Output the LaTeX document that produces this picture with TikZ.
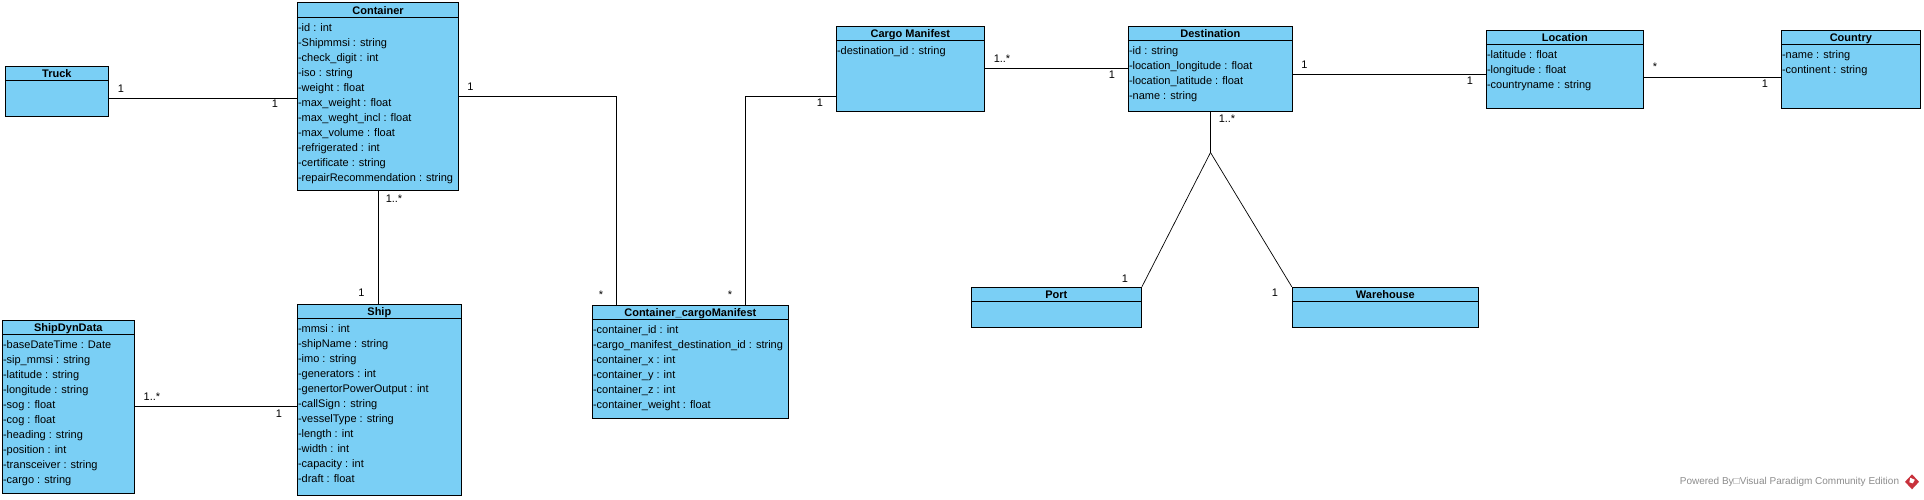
\documentclass[tikz,border=0pt]{standalone}
\usepackage{fontspec}
\setmainfont{Liberation Sans}
\usetikzlibrary{positioning}
\definecolor{classblue}{HTML}{7ACFF5}
\definecolor{logored}{HTML}{C8323C}
\definecolor{footgray}{HTML}{8C8C8C}
\tikzset{
classbox/.style={draw,fill=classblue,line width=1.1pt,anchor=north west,inner sep=0pt},
classtitle/.style={font=\fontsize{11}{13}\selectfont\bfseries,inner sep=0pt,anchor=base},
classattrs/.style={font=\fontsize{11}{15}\selectfont,align=left,anchor=north west,inner sep=0pt},
assoc/.style={line width=1.1pt},
forkline/.style={line width=0.7pt},
mult/.style={font=\fontsize{11}{13}\selectfont,inner sep=0pt},
}
% name, left, top, width, height, title, attributes
\newcommand{\umlclass}[7]{
\node[classbox,minimum width=#4pt,minimum height=#5pt] (#1) at (#2,#3) {};
\draw[line width=1.1pt] ([yshift=-15pt]#1.north west) -- ([yshift=-15pt]#1.north east);
\node[classtitle] (#1title) at ([yshift=-12pt]#1.north) {#6};
\node[classattrs] (#1attrs) at ([shift={(1pt,-21pt)}]#1.north west) {#7};
}
\begin{document}
\begin{tikzpicture}[x=1pt,y=-1pt]
\useasboundingbox (0.7,0.7) rectangle (1924.7,499.7);
%
\umlclass{truck}{5.5}{66.5}{103}{50}{Truck}{}
\umlclass{container}{297.5}{3}{161.5}{187.5}{Container}{-id : int\\-Shipmmsi : string\\-check\_digit : int\\-iso : string\\-weight : float\\-max\_weight : float\\-max\_weght\_incl : float\\-max\_volume : float\\-refrigerated : int\\-certificate : string\\-repairRecommendation : string}
\umlclass{ship}{297.5}{304.5}{164}{191}{Ship}{-mmsi : int\\-shipName : string\\-imo : string\\-generators : int\\-genertorPowerOutput : int\\-callSign : string\\-vesselType : string\\-length : int\\-width : int\\-capacity : int\\-draft : float}
\umlclass{shipdyn}{2.5}{320.5}{132}{173}{ShipDynData}{-baseDateTime : Date\\-sip\_mmsi : string\\-latitude : string\\-longitude : string\\-sog : float\\-cog : float\\-heading : string\\-position : int\\-transceiver : string\\-cargo : string}
\umlclass{ccm}{592.5}{305.5}{196}{113}{Container\_cargoManifest}{-container\_id : int\\-cargo\_manifest\_destination\_id : string\\-container\_x : int\\-container\_y : int\\-container\_z : int\\-container\_weight : float}
\umlclass{manifest}{836.5}{26.5}{148}{85}{Cargo Manifest}{-destination\_id : string}
\umlclass{destination}{1128.5}{26.5}{164}{85}{Destination}{-id : string\\-location\_longitude : float\\-location\_latitude : float\\-name : string}
\umlclass{location}{1486.5}{30.5}{157}{78}{Location}{-latitude : float\\-longitude : float\\-countryname : string}
\umlclass{country}{1781.5}{30.5}{139}{78}{Country}{-name : string\\-continent : string}
\umlclass{port}{971.5}{287.5}{170}{40}{Port}{}
\umlclass{warehouse}{1292.5}{287.5}{186}{40}{Warehouse}{}
%
\coordinate (fork) at (1211.2,153.2);
\draw[assoc](truck.east |- 0,99.2)--(container.west |- 0,99.2);
\draw[assoc](container.south -| 379.2,0)--(ship.north -| 379.2,0);
\draw[assoc](shipdyn.east |- 0,407.2)--(ship.west |- 0,407.2);
\draw[assoc](container.east |- 0,97.2)-|(ccm.north -| 617.2,0);
\draw[assoc](manifest.west |- 0,97.2)-|(ccm.north -| 746.2,0);
\draw[assoc](manifest.east |- 0,69.2)--(destination.west |- 0,69.2);
\draw[assoc](destination.east |- 0,75.2)--(location.west |- 0,75.2);
\draw[assoc](location.east |- 0,78.2)--(country.west |- 0,78.2);
\draw[forkline](destination.south -| fork)--(fork);
\draw[forkline](fork)--(port.north east);
\draw[forkline](fork)--(warehouse.north west);
%
\node[mult] (m1) at (121.7,89.7) {1};
\node[mult] (m2) at (275.7,104.7) {1};
\node[mult] (m3) at (471.2,87.7) {1};
\node[mult] (m4) at (394.7,199.7) {1..*};
\node[mult] (m5) at (362.2,293.7) {1};
\node[mult] (m6) at (152.7,397.7) {1..*};
\node[mult] (m7) at (279.7,414.7) {1};
\node[mult] (m8) at (601.7,295.7) {*};
\node[mult] (m9) at (730.7,295.7) {*};
\node[mult] (m10) at (820.7,103.7) {1};
\node[mult] (m11) at (1002.7,59.7) {1..*};
\node[mult] (m12) at (1112.7,75.7) {1};
\node[mult] (m13) at (1227.7,119.7) {1..*};
\node[mult] (m14) at (1125.7,279.7) {1};
\node[mult] (m15) at (1275.7,293.7) {1};
\node[mult] (m16) at (1305.2,65.7) {1};
\node[mult] (m17) at (1470.7,81.7) {1};
\node[mult] (m18) at (1655.7,67.7) {*};
\node[mult] (m19) at (1765.7,84.7) {1};
%
\node[font=\fontsize{10}{12}\selectfont,text=footgray,anchor=east,inner sep=0pt] (powered) at (1900,483) {Powered By□Visual Paradigm Community Edition};
\fill[logored](1912.7,475)--(1919.7,482.5)--(1912.7,490)--(1905.7,482.5)--cycle;
\fill[white](1911,478.5)--(1915.5,480.5)--(1913.5,484)--(1910,483)--cycle;
\end{tikzpicture}
\end{document}
